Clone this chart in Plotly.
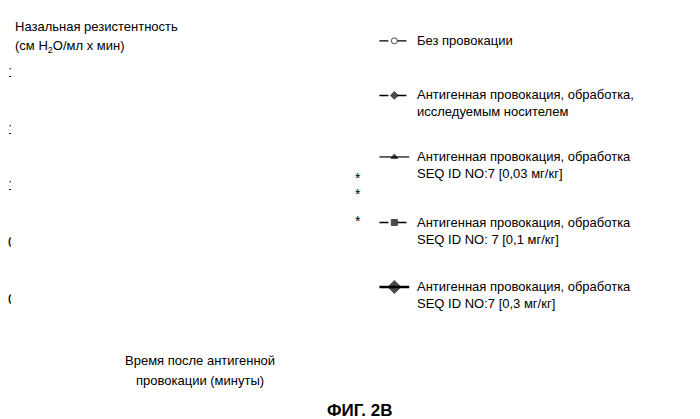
import plotly.graph_objects as go

t = [0, 5, 10, 15, 20, 25, 30, 35, 40]
none_y = [0.61, 0.65, 0.68, 0.69, 0.72, 0.73, 0.73, 0.74, 0.74]
none_e = [0.02, 0.03, 0.03, 0.03, 0.03, 0.03, 0.03, 0.03, 0.03]
veh_y = [0.72, 0.86, 0.95, 1.00, 1.17, 1.28, 1.35, 1.38, 1.40]
veh_e = [0.04, 0.10, 0.10, 0.10, 0.10, 0.13, 0.08, 0.09, 0.11]
s003_y = [0.74, 0.87, 0.97, 1.01, 1.02, 1.01, 1.01, 1.01, 1.01]
s003_e = [0.03, 0.09, 0.09, 0.09, 0.09, 0.05, 0.05, 0.05, 0.05]
s01_y = [0.73, 0.82, 0.91, 0.97, 1.01, 1.01, 1.01, 1.01, 1.00]
s01_e = [0.03, 0.06, 0.07, 0.07, 0.07, 0.05, 0.05, 0.05, 0.05]
s03_y = [0.69, 0.76, 0.80, 0.82, 0.85, 0.84, 0.84, 0.84, 0.84]
s03_e = [0.03, 0.05, 0.05, 0.05, 0.05, 0.03, 0.03, 0.03, 0.03]

labels = ["Без провокации",
          "Антигенная провокация, обработка,<br>исследуемым носителем",
          "Антигенная провокация, обработка<br>SEQ ID NO:7 [0,03 мг/кг]",
          "Антигенная провокация, обработка<br>SEQ ID NO: 7 [0,1 мг/кг]",
          "Антигенная провокация, обработка<br>SEQ ID NO:7 [0,3 мг/кг]"]
# legend row pixel positions
leg_py = [30, 85, 147, 213, 278]

W, H = 700, 419
FONT = "Liberation Sans"
styles = [
    dict(sym="circle-open", size=6, dash="dash", width=1.2),
    dict(sym="diamond", size=6, dash="dash", width=1.5),
    dict(sym="triangle-up", size=6, dash="solid", width=1.2),
    dict(sym="square", size=6, dash="dash", width=1.5),
    dict(sym="diamond", size=10, dash="solid", width=2.5),
]
series = [(none_y, none_e), (veh_y, veh_e), (s003_y, s003_e), (s01_y, s01_e), (s03_y, s03_e)]

fig = go.Figure()
for (y, e), st in zip(series, styles):
    fig.add_trace(go.Scatter(
        x=t, y=y, mode="lines+markers",
        line=dict(color="black", dash=st["dash"], width=st["width"]),
        marker=dict(symbol=st["sym"], size=st["size"], color="black",
                    line=dict(color="black", width=1)),
        error_y=dict(type="data", array=e, symmetric=False, arrayminus=[0] * len(e),
                     color="black", thickness=1, width=4),
        showlegend=False))

# legend glyphs on overlay pixel axis
for py, st, lab in zip(leg_py, styles, labels):
    fig.add_trace(go.Scatter(
        x=[370, 385, 400], y=[py, py, py], mode="lines+markers", xaxis="x2", yaxis="y2",
        line=dict(color="black", dash=st["dash"], width=st["width"]),
        marker=dict(symbol=st["sym"], size=[0, st["size"], 0], color="black",
                    line=dict(color="black", width=1)),
        showlegend=False, hoverinfo="skip"))
    fig.add_annotation(x=406, y=py - 10, xref="x2", yref="y2", text=lab, showarrow=False,
                       xanchor="left", yanchor="top", align="left",
                       font=dict(family=FONT, size=13, color="black"))

texts = [
    (2, 16, "Назальная резистентность", "left", 13),
    (2, 36, "(см H<sub>2</sub>O/мл x мин)", "left", 13),
    (190, 352, "Время после антигенной", "center", 13),
    (190, 372, "провокации (минуты)", "center", 13),
    (350, 402, "<b>ФИГ. 2В</b>", "center", 17),
    (348, 168, "*", "center", 14),
    (348, 184, "*", "center", 14),
    (348, 212, "*", "center", 14),
]
for px, py, txt, anc, sz in texts:
    fig.add_annotation(x=px, y=py, xref="x2", yref="y2", text=txt, showarrow=False,
                       xanchor=anc, yanchor="middle",
                       font=dict(family=FONT, size=sz, color="black"))

fig.update_layout(
    width=W, height=H, margin=dict(l=0, r=0, t=0, b=0),
    plot_bgcolor="white", paper_bgcolor="white",
    font=dict(family=FONT, color="black"),
    xaxis=dict(domain=[37 / W, 345 / W], range=[-0.82, 41.2], tickvals=[0, 10, 20, 30, 40],
               ticks="outside", ticklen=6, showline=True, linecolor="black", linewidth=1.5,
               showgrid=False, zeroline=False, tickfont=dict(size=15, family=FONT)),
    yaxis=dict(domain=[(H - 300) / H, (H - 55) / H], range=[0.456, 1.526],
               tickvals=[0.5, 0.75, 1.0, 1.25, 1.5], ticktext=["0.50", "0.75", "1.00", "1.25", "1.50"],
               ticks="outside", ticklen=6, showline=True, linecolor="black", linewidth=1.5,
               showgrid=False, zeroline=False, tickfont=dict(size=15, family=FONT)),
    xaxis2=dict(domain=[0, 1], range=[0, W], visible=False, anchor="y2", fixedrange=True),
    yaxis2=dict(domain=[0, 1], range=[H, 0], visible=False, anchor="x2", fixedrange=True),
)

fig.write_html("out.html")
